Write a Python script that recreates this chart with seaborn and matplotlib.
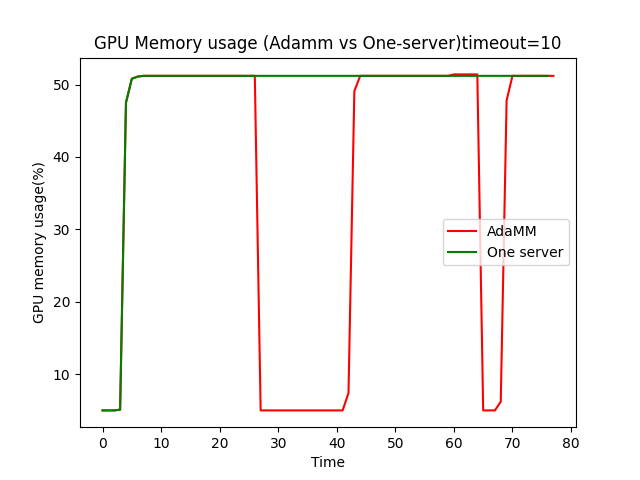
import pandas as pd
import seaborn as sns
import matplotlib
matplotlib.use("Agg")
import matplotlib.pyplot as plt

# =========================================================
# DATA
# =========================================================

adamm_usage = [
    5.0, 5.0, 5.0, 5.1, 47.5, 50.8, 51.1, 51.2, 51.2, 51.2,
    51.2, 51.2, 51.2, 51.2, 51.2, 51.2, 51.2, 51.2, 51.2, 51.2,
    51.2, 51.2, 51.2, 51.2, 51.2, 51.2, 51.2, 5.0, 5.0, 5.0,
    5.0, 5.0, 5.0, 5.0, 5.0, 5.0, 5.0, 5.0, 5.0, 5.0,
    5.0, 5.0, 7.4, 49.1, 51.2, 51.2, 51.2, 51.2, 51.2, 51.2,
    51.2, 51.2, 51.2, 51.2, 51.2, 51.2, 51.2, 51.2, 51.2, 51.2,
    51.4, 51.4, 51.4, 51.4, 51.4, 5.0, 5.0, 5.0, 6.2, 47.8,
    51.2, 51.2, 51.2, 51.2, 51.2, 51.2, 51.2, 51.2,
]

one_server_usage = [
    5.0, 5.0, 5.0, 5.1, 47.5, 50.8, 51.1, 51.2, 51.2, 51.2,
    51.2, 51.2, 51.2, 51.2, 51.2, 51.2, 51.2, 51.2, 51.2, 51.2,
    51.2, 51.2, 51.2, 51.2, 51.2, 51.2, 51.2, 51.2, 51.2, 51.2,
    51.2, 51.2, 51.2, 51.2, 51.2, 51.2, 51.2, 51.2, 51.2, 51.2,
    51.2, 51.2, 51.2, 51.2, 51.2, 51.2, 51.2, 51.2, 51.2, 51.2,
    51.2, 51.2, 51.2, 51.2, 51.2, 51.2, 51.2, 51.2, 51.2, 51.2,
    51.2, 51.2, 51.2, 51.2, 51.2, 51.2, 51.2, 51.2, 51.2, 51.2,
    51.2, 51.2, 51.2, 51.2, 51.2, 51.2, 51.2,
]

adamm_time = list(range(len(adamm_usage)))
one_server_time = list(range(len(one_server_usage)))

# =========================================================
# PLOT
# =========================================================

fig, ax = plt.subplots(figsize=(6.4, 4.8), dpi=100)

sns.lineplot(
    x=adamm_time,
    y=adamm_usage,
    color='red',
    label='AdaMM',
    ax=ax
)

sns.lineplot(
    x=one_server_time,
    y=one_server_usage,
    color='green',
    label='One server',
    ax=ax
)

ax.set_xlabel("Time")
ax.set_ylabel("GPU memory usage(%)")
ax.set_title("GPU Memory usage (Adamm vs One-server)timeout=10")

ax.legend(loc='center right')

plt.savefig("out.png")
plt.close()
